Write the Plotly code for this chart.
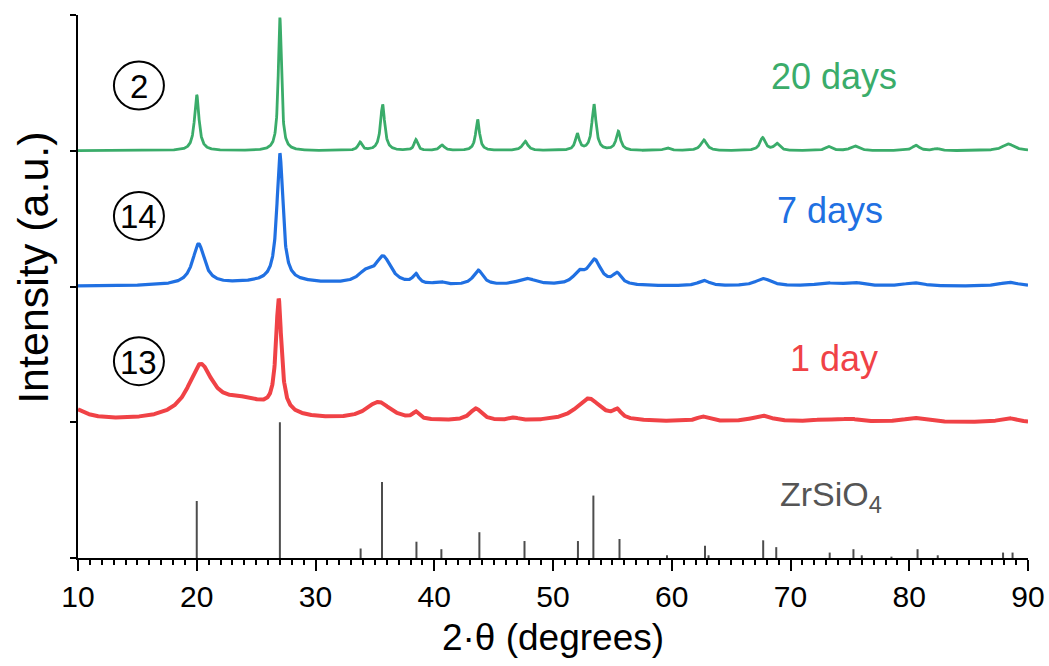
import numpy as np
import plotly.graph_objects as go

# ---------------- data ----------------
# 20 days (green): baseline offset and peaks (center 2θ, height, FWHM)
green_base = 3.0
green_pos = [20.0, 27.0, 33.75, 35.65, 38.45, 40.65, 43.65, 47.65, 52.05, 53.45, 55.5,
             59.6, 62.7, 67.65, 68.85, 73.2, 75.4, 80.55, 82.3, 88.35]
green_h = [0.41, 0.98, 0.06, 0.34, 0.08, 0.04, 0.23, 0.07, 0.12, 0.34, 0.14,
           0.02, 0.08, 0.095, 0.05, 0.03, 0.035, 0.04, 0.015, 0.05]
green_w = [0.45, 0.32, 0.4, 0.42, 0.35, 0.5, 0.38, 0.55, 0.4, 0.42, 0.45,
           0.6, 0.6, 0.55, 0.55, 0.6, 0.8, 0.7, 0.6, 1.2]

# 7 days (blue)
blue_base = 2.0
blue_pos = [20.15, 27.0, 27.0, 34.2, 35.7, 38.45, 40.5, 43.7, 47.8, 52.2, 53.5, 55.4,
            62.7, 67.7, 73.0, 75.3, 80.4, 88.4]
blue_h = [0.3, 0.94, 0.035, 0.07, 0.2, 0.07, 0.02, 0.11, 0.05, 0.08, 0.18, 0.08,
          0.04, 0.055, 0.02, 0.025, 0.025, 0.03]
blue_w = [1.2, 0.6, 10.0, 1.5, 1.6, 0.6, 1.0, 1.0, 2.0, 1.2, 1.3, 0.9,
          1.2, 1.6, 2.0, 2.0, 2.0, 2.0]

# 1 day (red)
red_base = 1.0
red_pos = [9.0, 20.3, 24.0, 26.9, 35.3, 38.45, 43.5, 46.7, 53.0, 55.4, 62.6, 67.6,
           72.8, 75.0, 80.4, 88.3]
red_h = [0.12, 0.37, 0.14, 0.82, 0.135, 0.05, 0.09, 0.02, 0.17, 0.06, 0.035, 0.045,
         0.015, 0.02, 0.03, 0.03]
red_w = [3.0, 2.5, 6.0, 0.55, 2.6, 0.6, 1.2, 1.0, 2.6, 0.8, 1.2, 2.0,
         2.0, 2.0, 2.0, 1.5]

# ZrSiO4 reference pattern (stick positions and relative intensities)
ref_pos = [20.0, 27.0, 33.8, 35.6, 38.5, 40.6, 43.8, 47.6, 52.1, 53.4, 55.6, 59.6,
           62.8, 63.1, 67.7, 68.8, 73.3, 75.3, 76.0, 78.5, 80.7, 82.4, 87.9, 88.7]
ref_h = [0.42, 1.0, 0.07, 0.56, 0.12, 0.065, 0.19, 0.125, 0.125, 0.46, 0.14, 0.02,
         0.09, 0.02, 0.13, 0.08, 0.04, 0.065, 0.02, 0.01, 0.065, 0.02, 0.04, 0.04]

x_ticks = [10, 20, 30, 40, 50, 60, 70, 80, 90]
labels = ["20 days", "7 days", "1 day"]
sample_ids = ["2", "14", "13"]

# ---------------- build profiles ----------------
two_theta = np.arange(10.0, 90.0001, 0.02)


def profile(base, pos, h, w):
    y = np.full_like(two_theta, base)
    for c, a, f in zip(pos, h, w):
        y += a / (1.0 + ((two_theta - c) / (f / 2.0)) ** 2)
    return y


GREEN = "rgb(58,172,106)"
BLUE = "rgb(32,112,226)"
RED = "rgb(240,66,70)"
GREY = "#4d4d4d"

fig = go.Figure()

# reference sticks
sx, sy = [], []
for p, hh in zip(ref_pos, ref_h):
    sx += [p, p, None]
    sy += [0, hh, None]
fig.add_trace(go.Scatter(x=sx, y=sy, mode="lines", line=dict(color=GREY, width=2),
                         showlegend=False, hoverinfo="skip"))

for base, pos, h, w, col, lw in [
    (red_base, red_pos, red_h, red_w, RED, 4.0),
    (blue_base, blue_pos, blue_h, blue_w, BLUE, 3.2),
    (green_base, green_pos, green_h, green_w, GREEN, 2.8),
]:
    fig.add_trace(go.Scatter(x=two_theta, y=profile(base, pos, h, w), mode="lines",
                             line=dict(color=col, width=lw), showlegend=False))

FONT = "Arial, Liberation Sans, sans-serif"

# series labels
for txt, col, xv, yv in [(labels[0], GREEN, 73.66, 3.55), (labels[1], BLUE, 73.3, 2.56),
                         (labels[2], RED, 73.66, 1.47)]:
    fig.add_annotation(x=xv, y=yv, xref="x", yref="y", text=txt, showarrow=False,
                       font=dict(family=FONT, size=36, color=col))

fig.add_annotation(x=73.4, y=0.45, xref="x", yref="y", text="ZrSiO<sub>4</sub>", showarrow=False,
                   font=dict(family=FONT, size=34, color="#555555"))

# circled sample numbers
for sid, yv in zip(sample_ids, [3.48, 2.52, 1.45]):
    fig.add_shape(type="circle", xref="x", yref="y", xsizemode="pixel", ysizemode="pixel",
                  xanchor=15.13, yanchor=yv, x0=-25, x1=25, y0=-24, y1=24,
                  line=dict(color="black", width=2))
    fig.add_annotation(x=15.13, y=yv, xref="x", yref="y", text=sid, showarrow=False,
                       font=dict(family=FONT, size=33, color="black"), yshift=-1)

# y-axis title (placed as in the reference, slightly above centre)
fig.add_annotation(x=-0.047, y=0.535, xref="paper", yref="paper", text="Intensity (a.u.)",
                   textangle=-90, showarrow=False, xanchor="center", yanchor="middle",
                   font=dict(family=FONT, size=43, color="black"))

fig.update_layout(
    width=1049, height=666,
    margin=dict(l=78, r=21, t=15, b=108, autoexpand=False),
    plot_bgcolor="white", paper_bgcolor="white",
    font=dict(family=FONT, color="black"),
)
fig.update_xaxes(range=[10, 90], tickvals=x_ticks, ticks="outside", ticklen=11, tickwidth=2,
                 tickcolor="black", showline=True, linewidth=2, linecolor="black",
                 showgrid=False, zeroline=False, tickfont=dict(size=30), automargin=False,
                 minor=dict(dtick=1, ticks="outside", ticklen=5, tickwidth=1.5, tickcolor="black"),
                 title=dict(text="2·θ (degrees)", font=dict(size=37), standoff=12))
fig.update_yaxes(range=[0, 4], tickvals=[0, 1, 2, 3, 4], showticklabels=False, ticks="outside",
                 ticklen=6, tickwidth=2, tickcolor="black", showline=True, linewidth=2,
                 linecolor="black", showgrid=False, zeroline=False, automargin=False)

fig.write_html("out.html", config={"displayModeBar": False},
               post_script="document.body.style.margin='0';")
